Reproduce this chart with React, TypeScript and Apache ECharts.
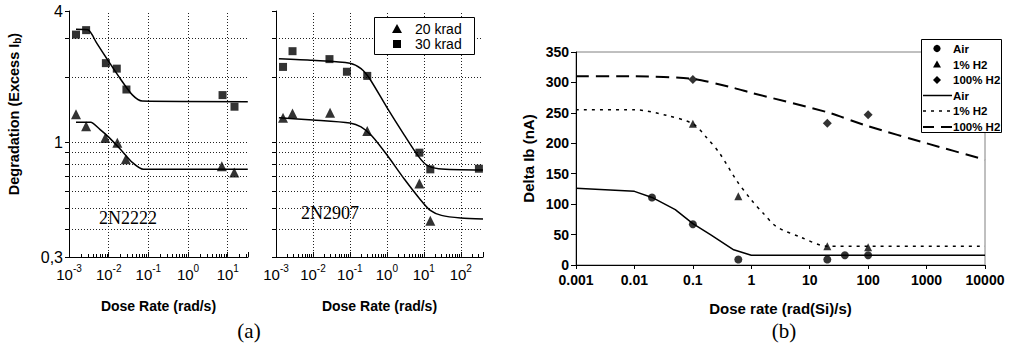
import React, { useEffect, useRef } from "react";
import * as echarts from "echarts";

const SANS = "'Liberation Sans', Arial, sans-serif";
const SERIF = "'Liberation Serif', 'Times New Roman', serif";

// ---------- Panel (a) left: 2N2222 ----------
const n2222Sq30 = [[0.0015, 3.12], [0.0027, 3.27], [0.0085, 2.31], [0.016, 2.18], [0.028, 1.75], [7.4, 1.65], [14.8, 1.46]];
const n2222Tri20 = [[0.0015, 1.35], [0.0027, 1.19], [0.0082, 1.05], [0.0165, 1.0], [0.027, 0.84], [7.1, 0.78], [14.6, 0.73]];
const n2222Fit30 = [[0.0015, 3.3], [0.003, 3.28], [0.005, 2.85], [0.01, 2.35], [0.02, 1.95], [0.04, 1.65], [0.07, 1.55], [32, 1.54]];
const n2222Fit20 = [[0.0015, 1.24], [0.0035, 1.24], [0.006, 1.15], [0.01, 1.06], [0.02, 0.93], [0.04, 0.81], [0.075, 0.755], [32, 0.755]];

// ---------- Panel (a) right: 2N2907 ----------
const n2907Sq30 = [[0.00155, 2.22], [0.0028, 2.62], [0.028, 2.41], [0.083, 2.11], [0.295, 2.02], [7.6, 0.9], [15, 0.755], [310, 0.76]];
const n2907Tri20 = [[0.00155, 1.3], [0.0028, 1.36], [0.029, 1.37], [0.295, 1.13], [7.6, 0.65], [15, 0.44]];
const n2907Fit30 = [[0.0012, 2.42], [0.01, 2.38], [0.1, 2.31], [0.2, 2.18], [0.35, 1.95], [1, 1.45], [3, 1.08], [7, 0.87], [12, 0.79], [25, 0.76], [400, 0.75]];
const n2907Fit20 = [[0.0012, 1.3], [0.01, 1.27], [0.1, 1.23], [0.2, 1.18], [0.4, 1.07], [1, 0.88], [3, 0.68], [8, 0.55], [15, 0.49], [30, 0.465], [100, 0.452], [400, 0.448]];

// ---------- Panel (b) ----------
const airPts = [[0.02, 111], [0.1, 67], [0.6, 9], [20, 9], [40, 16], [100, 16]];
const h2OnePts = [[0.1, 232], [0.6, 113], [20, 31], [100, 29]];
const h2FullPts = [[0.1, 305], [20, 233], [100, 247]];
const airFit = [[0.001, 126], [0.01, 121], [0.02, 111], [0.05, 91], [0.1, 68], [0.2, 50], [0.5, 25], [1, 16], [10000, 16]];
const h2OneFit = [[0.001, 255], [0.01, 255], [0.035, 246], [0.1, 232], [0.17, 210], [0.29, 183], [0.56, 139], [1, 107], [1.6, 85], [2.7, 63], [6.9, 46], [20, 31], [10000, 31]];
const h2FullFit = [[0.001, 310], [0.01, 310], [0.1, 306], [0.5, 291], [1, 283], [20, 251], [100, 228], [1000, 200], [10000, 173]];

// ---------- ticks / grid values ----------
const aYLabels = [0.3, 1, 4];
const aYTicks = [0.3, 0.4, 0.5, 0.6, 0.7, 0.8, 0.9, 1, 2, 3, 4];
const aYGrid = [0.4, 0.5, 0.6, 0.7, 0.8, 0.9, 1, 2, 3];
const a1XGrid = [0.01, 0.1, 1, 10];
const a2XGrid = [0.01, 0.1, 1, 10, 100];
const legendA = ["20 krad", "30 krad"];
const legendB = ["Air", "1% H2", "100% H2", "Air", "1% H2", "100% H2"];

const isPow10 = (v: number) => {
  const e = Math.round(Math.log10(v));
  return Math.abs(v - Math.pow(10, e)) / v < 1e-6 ? e : null;
};

const powLabel = (v: number) => {
  const e = isPow10(v);
  if (e === null) return "";
  return `{b|10}{s|${e}}`;
};

const powRich = {
  b: { fontSize: 15, fontFamily: SANS, color: "#000", lineHeight: 19, verticalAlign: "bottom" },
  s: { fontSize: 10, fontFamily: SANS, color: "#000", lineHeight: 10, verticalAlign: "top" },
};

const gridMark = (ys: number[], xs: number[]) => ({
  silent: true,
  symbol: ["none", "none"],
  label: { show: false },
  lineStyle: { type: [1, 2], color: "#222", width: 1 },
  data: [...ys.map((v) => ({ yAxis: v })), ...xs.map((v) => ({ xAxis: v }))],
  z: 1,
});

const aXAxis = (gridIndex: number, max: number) => ({
  type: "log",
  logBase: 10,
  gridIndex,
  min: 0.001,
  max,
  axisLine: { lineStyle: { color: "#000", width: 1 } },
  axisTick: { show: true, inside: true, length: 5, lineStyle: { color: "#000" } },
  minorTick: { show: true, splitNumber: 9, length: 3, lineStyle: { color: "#000" } },
  splitLine: { show: false },
  axisLabel: { formatter: powLabel, rich: powRich, margin: 6 },
  name: "Dose Rate (rad/s)",
  nameLocation: "middle",
  nameGap: 42,
  nameTextStyle: { fontSize: 14, fontWeight: "bold", fontFamily: SANS, color: "#000" },
});

const aYAxis = (gridIndex: number, showLabels: boolean) => ({
  type: "log",
  logBase: 10,
  gridIndex,
  min: 0.3,
  max: 4,
  axisLine: { lineStyle: { color: "#000", width: 1 } },
  axisTick: { show: true, length: 4, customValues: aYTicks, lineStyle: { color: "#000" } },
  splitLine: { show: false },
  axisLabel: {
    show: showLabels,
    customValues: aYLabels,
    fontSize: 16,
    fontFamily: SANS,
    color: "#000",
    margin: 6,
    formatter: (v: number) => String(Math.round(v * 10) / 10).replace(".", ","),
  },
});

const fitLine = (data: number[][], xi: number, marks?: any) => ({
  type: "line",
  xAxisIndex: xi,
  yAxisIndex: xi,
  data,
  symbol: "none",
  smooth: 0.25,
  lineStyle: { color: "#000", width: 1.5 },
  z: 3,
  ...(marks ? { markLine: marks } : {}),
});

const pts = (data: number[][], xi: number, symbol: string, size: number) => ({
  type: "scatter",
  xAxisIndex: xi,
  yAxisIndex: xi,
  data,
  symbol,
  symbolSize: size,
  itemStyle: { color: "#000" },
  z: 4,
});

export default function App() {
  const ref = useRef<HTMLDivElement>(null);
  useEffect(() => {
    if (!ref.current) return;
    const chart = echarts.init(ref.current, undefined, { renderer: "svg" });
    const bFont = { fontFamily: SANS, fontWeight: "bold", color: "#000" };
    const option: any = {
      animation: false,
      backgroundColor: "#fff",
      grid: [
        { left: 69, top: 11, width: 179, height: 246 },
        { left: 276, top: 11, width: 207, height: 246 },
        { left: 576, top: 52, width: 409, height: 213, show: true, borderColor: "#808080", borderWidth: 1, backgroundColor: "transparent" },
      ],
      xAxis: [
        aXAxis(0, 32.4),
        aXAxis(1, 400),
        {
          type: "log",
          logBase: 10,
          gridIndex: 2,
          min: 0.001,
          max: 10000,
          axisLine: { lineStyle: { color: "#000", width: 1 } },
          axisTick: { show: true, length: 4, lineStyle: { color: "#000" } },
          splitLine: { show: false },
          axisLabel: {
            ...bFont,
            fontSize: 14,
            margin: 8,
            formatter: (v: number) => {
              const e = Math.round(Math.log10(v));
              return e < 0 ? Math.pow(10, e).toFixed(-e) : String(Math.pow(10, e));
            },
          },
          name: "Dose rate (rad(Si)/s)",
          nameLocation: "middle",
          nameGap: 36,
          nameTextStyle: { ...bFont, fontSize: 15 },
        },
      ],
      yAxis: [
        aYAxis(0, true),
        aYAxis(1, false),
        {
          type: "value",
          gridIndex: 2,
          min: 0,
          max: 350,
          interval: 50,
          axisLine: { show: true, lineStyle: { color: "#000", width: 1 } },
          axisTick: { show: true, length: 5, lineStyle: { color: "#000" } },
          splitLine: { show: false },
          axisLabel: { ...bFont, fontSize: 14, margin: 7 },
          name: "Delta Ib (nA)",
          nameLocation: "middle",
          nameGap: 40,
          nameRotate: 90,
          nameTextStyle: { ...bFont, fontSize: 15 },
        },
      ],
      series: [
        fitLine(n2222Fit30, 0, gridMark(aYGrid, a1XGrid)),
        fitLine(n2222Fit20, 0),
        pts(n2222Sq30, 0, "rect", 8),
        pts(n2222Tri20, 0, "triangle", 10),
        fitLine(n2907Fit30, 1, gridMark(aYGrid, a2XGrid)),
        fitLine(n2907Fit20, 1),
        pts(n2907Sq30, 1, "rect", 8),
        pts(n2907Tri20, 1, "triangle", 10),
        {
          type: "line", xAxisIndex: 2, yAxisIndex: 2, data: airFit, symbol: "none", smooth: false,
          lineStyle: { color: "#000", width: 1.5 }, z: 3,
        },
        {
          type: "line", xAxisIndex: 2, yAxisIndex: 2, data: h2OneFit, symbol: "none", smooth: 0.3,
          lineStyle: { color: "#000", width: 1.5, type: [3, 5] }, z: 3,
        },
        {
          type: "line", xAxisIndex: 2, yAxisIndex: 2, data: h2FullFit, symbol: "none", smooth: 0.2,
          lineStyle: { color: "#000", width: 2, type: [13, 7] }, z: 3,
        },
        pts(airPts, 2, "circle", 8),
        pts(h2OnePts, 2, "triangle", 8),
        pts(h2FullPts, 2, "diamond", 9),
      ],
      graphic: [
        // y title (a)
        {
          type: "text", x: 14, y: 114, rotation: Math.PI / 2, z: 100,
          style: {
            text: "{a|Degradation (Excess I}{s|b}{a|)}",
            align: "center", verticalAlign: "middle",
            rich: {
              a: { fontSize: 14.5, fontWeight: "bold", fontFamily: SANS, fill: "#000", lineHeight: 18 },
              s: { fontSize: 10, fontWeight: "bold", fontFamily: SANS, fill: "#000", lineHeight: 10, padding: [6, 0, 0, 0] },
            },
          },
        },
        { type: "text", x: 128, y: 218, z: 100, style: { text: "2N2222", fontSize: 18, fontFamily: SERIF, fill: "#000", align: "center", verticalAlign: "middle" } },
        { type: "text", x: 330, y: 213, z: 100, style: { text: "2N2907", fontSize: 18, fontFamily: SERIF, fill: "#000", align: "center", verticalAlign: "middle" } },
        // legend (a)
        { type: "rect", z: 100, shape: { x: 374.5, y: 17.5, width: 100, height: 37 }, style: { fill: "#fff", stroke: "#000", lineWidth: 1 } },
        { type: "polygon", z: 101, shape: { points: [[397, 24], [402, 33], [392, 33]] }, style: { fill: "#000" } },
        { type: "rect", z: 101, shape: { x: 393, y: 40, width: 8, height: 8 }, style: { fill: "#000" } },
        { type: "text", z: 101, x: 415, y: 28.5, style: { text: legendA[0], fontSize: 14, fontFamily: SANS, fill: "#000", verticalAlign: "middle" } },
        { type: "text", z: 101, x: 415, y: 44, style: { text: legendA[1], fontSize: 14, fontFamily: SANS, fill: "#000", verticalAlign: "middle" } },
        // legend (b)
        { type: "rect", z: 100, shape: { x: 921.5, y: 39.5, width: 80, height: 93 }, style: { fill: "#fff", stroke: "#000", lineWidth: 1 } },
        { type: "circle", z: 101, shape: { cx: 937, cy: 48.5, r: 3.6 }, style: { fill: "#000" } },
        { type: "polygon", z: 101, shape: { points: [[937, 60.5], [941, 67.5], [933, 67.5]] }, style: { fill: "#000" } },
        { type: "polygon", z: 101, shape: { points: [[937, 76], [941, 80], [937, 84], [933, 80]] }, style: { fill: "#000" } },
        { type: "line", z: 101, shape: { x1: 923, y1: 95.5, x2: 952, y2: 95.5 }, style: { stroke: "#000", lineWidth: 1.5 } },
        { type: "line", z: 101, shape: { x1: 923, y1: 111, x2: 952, y2: 111 }, style: { stroke: "#000", lineWidth: 1.5, lineDash: [3, 5] } },
        { type: "line", z: 101, shape: { x1: 923, y1: 127, x2: 952, y2: 127 }, style: { stroke: "#000", lineWidth: 2, lineDash: [11, 7] } },
        ...legendB.map((t, i) => ({
          type: "text", z: 101, x: 953, y: [48.5, 64.5, 80, 95.5, 111, 127][i],
          style: { text: t, fontSize: 11.5, fontWeight: "bold", fontFamily: SANS, fill: "#000", verticalAlign: "middle" },
        })),
        // captions
        { type: "text", x: 249, y: 331, z: 100, style: { text: "(a)", fontSize: 21, fontFamily: SERIF, fill: "#000", align: "center", verticalAlign: "middle" } },
        { type: "text", x: 784, y: 331, z: 100, style: { text: "(b)", fontSize: 21, fontFamily: SERIF, fill: "#000", align: "center", verticalAlign: "middle" } },
      ],
    };
    chart.setOption(option);
    return () => chart.dispose();
  }, []);
  return (
    <div
      ref={ref}
      style={{ position: "absolute", left: 0, top: 0, width: 1009, height: 356, background: "#fff" }}
    />
  );
}
